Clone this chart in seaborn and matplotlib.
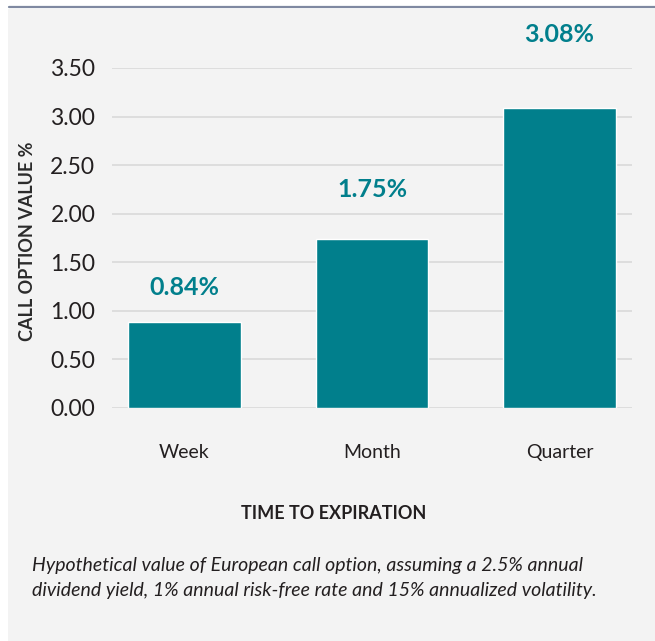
import numpy as np
import pandas as pd
import seaborn as sns
import matplotlib.pyplot as plt
from matplotlib.patches import Rectangle
from matplotlib.lines import Line2D

# Data ########################################################################

expiry = ['Week', 'Month', 'Quarter']
option_value = [0.88, 1.74, 3.09]
value_labels = ['0.84%', '1.75%', '3.08%']
y_ticks = [0.0, 0.5, 1.0, 1.5, 2.0, 2.5, 3.0, 3.5]

caption = ('Hypothetical value of European call option, assuming a 2.5% annual\n'
           'dividend yield, 1% annual risk-free rate and 15% annualized volatility.')

df = pd.DataFrame({'expiry': expiry, 'value': option_value})

teal = '#017f8c'
panel = '#f3f3f3'
ink = '#231f20'

# Figure ######################################################################

sns.set_style('white')
plt.rcParams['font.family'] = ['Lato', 'DejaVu Sans']

fig = plt.figure(figsize=(6.55, 6.41), dpi=100, facecolor='white')

# grey panel and the thin rule on top
fig.patches.append(Rectangle((8/655, 0), 1, 1 - 9/641, transform=fig.transFigure,
                             facecolor=panel, edgecolor='none', zorder=-10))
fig.lines.append(Line2D([9/655, 1], [1 - 7/641, 1 - 7/641], transform=fig.transFigure,
                        color='#7f89a1', lw=1.6))

ax = fig.add_axes([112/655, 1 - 407.7/641, 520/655, 339.7/641])
ax.patch.set_visible(False)

sns.barplot(data=df, x='expiry', y='value', color=teal, width=0.6,
            saturation=1, ax=ax, zorder=3)

ax.set_xlim(-0.386, 2.386)
ax.set_ylim(0, 3.5)
ax.set_yticks(y_ticks)
ax.set_yticklabels([f'{t:.2f}' for t in y_ticks])
ax.yaxis.grid(True, color='#d9d9d9', lw=1.2, zorder=0)
ax.set_axisbelow(True)
sns.despine(ax=ax, left=True, bottom=True)

ax.tick_params(axis='y', length=0, pad=12, labelsize=16.5, labelcolor=ink)
ax.tick_params(axis='x', length=0, pad=26, labelsize=14, labelcolor=ink)

for i, (v, lab) in enumerate(zip(option_value, value_labels)):
    ax.text(i, v * 1.18 + 0.2, lab, ha='center', va='center', color=teal,
            fontsize=18, fontweight='bold', clip_on=False)

ax.set_ylabel('CALL OPTION VALUE %', fontsize=13, fontweight='bold', color='#2b2b2b')
ax.yaxis.set_label_coords(-0.147, 0.49)
ax.set_xlabel('TIME TO EXPIRATION', fontsize=13, fontweight='bold', color=ink)
ax.xaxis.set_label_coords(0.427, -0.31)
ax.xaxis.label.set_va('center')

fig.text(32/655, 1 - 557/641, caption, ha='left', va='top', fontsize=14,
         fontstyle='italic', color=ink, linespacing=1.55)

fig.savefig('out.png', dpi=100, facecolor='white')
